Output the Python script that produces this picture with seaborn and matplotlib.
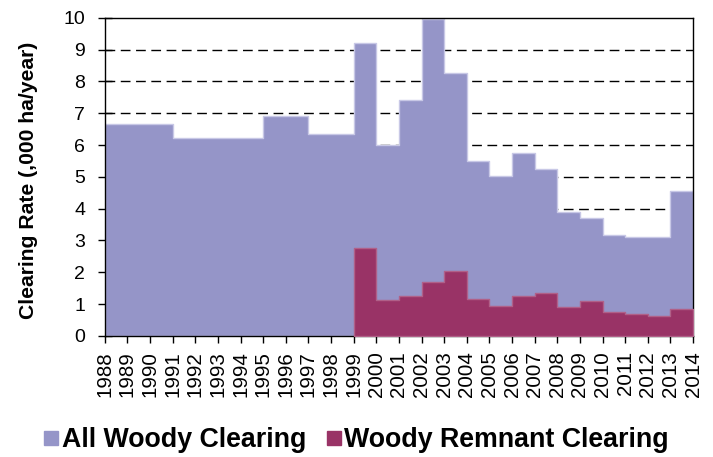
import numpy as np
import pandas as pd
import matplotlib
matplotlib.use("Agg")
import matplotlib.pyplot as plt
from matplotlib.lines import Line2D
import seaborn as sns

# clearing rate per year (,000 ha/year), each value covers [year, year+1)
years = list(range(1988, 2014))
all_woody = [6.66, 6.66, 6.66, 6.22, 6.22, 6.22, 6.22, 6.91, 6.91, 6.36, 6.36,
             9.20, 6.00, 7.41, 9.95, 8.26, 5.49, 5.04, 5.74, 5.25, 3.90, 3.70,
             3.18, 3.11, 3.11, 4.56]
remnant_years = list(range(1999, 2014))
remnant = [2.76, 1.13, 1.26, 1.70, 2.05, 1.15, 0.95, 1.26, 1.34, 0.90, 1.11,
           0.75, 0.69, 0.63, 0.84]
tick_years = list(range(1988, 2015))

col_all = "#9595c8"
col_rem = "#993366"

df_all = pd.DataFrame({"year": years, "rate": all_woody})
df_rem = pd.DataFrame({"year": remnant_years, "rate": remnant})

sns.set_style("white")
plt.rcParams["font.family"] = ["Liberation Sans", "DejaVu Sans"]
plt.rcParams["text.color"] = "black"
plt.rcParams["axes.labelcolor"] = "black"
plt.rcParams["xtick.color"] = "black"
plt.rcParams["ytick.color"] = "black"

fig = plt.figure(figsize=(7.13, 4.57), dpi=100)
ax = fig.add_axes([0.147, 0.265, 0.825, 0.696])

for y in range(1, 10):
    ax.axhline(y, color="black", lw=1, ls=(0, (7, 4)), zorder=0)

# bins as plain lists (seaborn compares bins to "auto" when weights are used)
sns.histplot(data=df_all, x="year", weights="rate", bins=list(range(1988, 2015)),
             element="step", fill=True, color=col_all, alpha=1, edgecolor="#c8c8e6",
             linewidth=1, ax=ax, zorder=2)
sns.histplot(data=df_rem, x="year", weights="rate", bins=list(range(1999, 2015)),
             element="step", fill=True, color=col_rem, alpha=1, edgecolor="#b06088",
             linewidth=1, ax=ax, zorder=3)

ax.set_xlim(1988, 2014)
ax.set_ylim(0, 10)
ax.set_xticks(tick_years)
ax.set_xticklabels([str(y) for y in tick_years], rotation=90, fontsize=14.8)
ax.set_yticks(range(0, 11))
ax.tick_params(axis="y", labelsize=14, direction="inout", length=10, width=1, left=True, pad=9)
ax.tick_params(axis="x", direction="out", length=5, width=1, pad=6, bottom=True)
ax.set_ylabel("Clearing Rate (,000 ha/year)", fontsize=15.2, fontweight="bold")
ax.yaxis.set_label_coords(-0.114, 0.49)
ax.set_xlabel("")
for s in ax.spines.values():
    s.set_visible(True)
    s.set_color("black")
    s.set_linewidth(1)

handles = [Line2D([], [], marker="s", ls="", color=col_all, markersize=10),
           Line2D([], [], marker="s", ls="", color=col_rem, markersize=10)]
fig.legend(handles, ["All Woody Clearing", "Woody Remnant Clearing"], loc="center",
           bbox_to_anchor=(0.5, 0.037), ncol=2, frameon=False, handlelength=0.55,
           handletextpad=0.12, columnspacing=0.75,
           prop={"size": 19.3, "weight": "bold"})

fig.savefig("out.png", dpi=100)
